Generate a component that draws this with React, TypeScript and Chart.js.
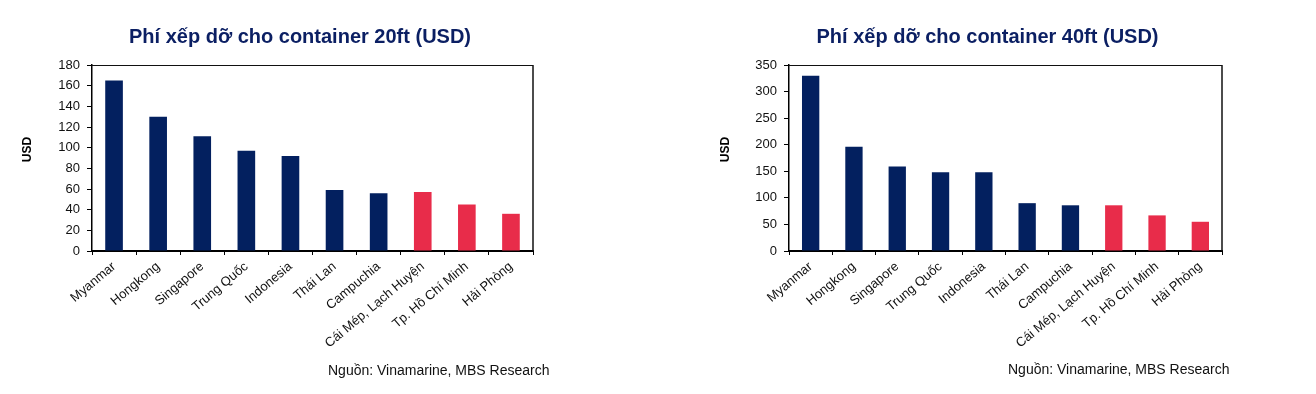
import React, { useEffect, useRef } from "react";
import { Chart, registerables } from "chart.js";

Chart.register(...registerables);

const FONT = "Arial, 'Liberation Sans', sans-serif";

const categories = [
  "Myanmar",
  "Hongkong",
  "Singapore",
  "Trung Quốc",
  "Indonesia",
  "Thái Lan",
  "Campuchia",
  "Cái Mép, Lạch Huyện",
  "Tp. Hồ Chí Minh",
  "Hải Phòng",
];
const isVietnamPort = [false, false, false, false, false, false, false, true, true, true];
const fee20ft = [165, 130, 111, 97, 92, 59, 56, 57, 45, 36];
const fee40ft = [330, 196, 159, 148, 148, 90, 86, 86, 67, 55];
const yTicks20ft = [0, 20, 40, 60, 80, 100, 120, 140, 160, 180];
const yTicks40ft = [0, 50, 100, 150, 200, 250, 300, 350];
const title20ft = "Phí xếp dỡ cho container 20ft (USD)";
const title40ft = "Phí xếp dỡ cho container 40ft (USD)";
const yAxisTitle = "USD";
const sourceText = "Nguồn: Vinamarine, MBS Research";

const NAVY = "#03205f";
const RED = "#e82c4a";
const TITLE_COLOR = "#0b1f63";
const H = 394;
const W = 600;

const annotPlugin = {
  id: "annot",
  afterDraw(chart: any, _args: any, opts: any) {
    const ctx = chart.ctx;
    const { left, top, right, bottom } = chart.chartArea;
    ctx.save();
    // frame top & right
    ctx.strokeStyle = "#111";
    ctx.lineWidth = 1;
    ctx.beginPath();
    ctx.moveTo(left, top + 0.5);
    ctx.lineTo(right, top + 0.5);
    ctx.stroke();
    ctx.lineWidth = 1.5;
    ctx.beginPath();
    ctx.moveTo(right, top);
    ctx.lineTo(right, bottom);
    ctx.stroke();
    // title
    ctx.font = `bold 20px ${FONT}`;
    ctx.fillStyle = TITLE_COLOR;
    ctx.textAlign = "center";
    ctx.textBaseline = "middle";
    ctx.fillText(opts.title, opts.titleX, 37);
    // y title
    ctx.save();
    ctx.translate(opts.yTitleX, 149.5);
    ctx.rotate(-Math.PI / 2);
    ctx.font = `bold 12px ${FONT}`;
    ctx.fillStyle = "#000";
    ctx.fillText(yAxisTitle, 0, 0);
    ctx.restore();
    // source
    ctx.font = `14px ${FONT}`;
    ctx.fillStyle = "#111";
    ctx.textAlign = "left";
    ctx.fillText(sourceText, opts.sourceX, opts.sourceY);
    ctx.restore();
  },
};

type PanelProps = {
  values: number[];
  yTicks: number[];
  title: string;
  offsetLeft: number;
  areaLeft: number;
  areaRight: number;
  areaTop: number;
  areaBottom: number;
  titleX: number;
  yTitleX: number;
  sourceX: number;
  sourceY: number;
};

function ChartPanel(p: PanelProps) {
  const ref = useRef<HTMLCanvasElement | null>(null);
  useEffect(() => {
    if (!ref.current) return;
    const chart = new Chart(ref.current, {
      type: "bar",
      data: {
        labels: categories,
        datasets: [
          {
            data: p.values,
            backgroundColor: isVietnamPort.map((v) => (v ? RED : NAVY)),
            barPercentage: 0.4,
            categoryPercentage: 1.0,
          },
        ],
      },
      plugins: [annotPlugin],
      options: {
        responsive: false,
        animation: false,
        layout: {
          padding: { left: 0, top: p.areaTop, right: W - p.areaRight, bottom: 0 },
        },
        plugins: {
          legend: { display: false },
          tooltip: { enabled: false },
          title: { display: false },
          annot: {
            title: p.title,
            titleX: p.titleX,
            yTitleX: p.yTitleX,
            sourceX: p.sourceX,
            sourceY: p.sourceY,
          },
        } as any,
        scales: {
          x: {
            afterFit: (s: any) => {
              s.height = H - p.areaBottom;
            },
            grid: {
              drawOnChartArea: false,
              drawTicks: true,
              tickLength: 4,
              color: "#000",
              offset: true,
            },
            border: { display: true, color: "#000", width: 2 },
            ticks: {
              autoSkip: false,
              minRotation: 40,
              maxRotation: 40,
              padding: 4,
              color: "#111",
              font: { family: FONT, size: 13 },
            },
          },
          y: {
            min: yTicks20ftMin(p.yTicks),
            max: p.yTicks[p.yTicks.length - 1],
            afterFit: (s: any) => {
              s.width = p.areaLeft;
            },
            afterBuildTicks: (s: any) => {
              s.ticks = p.yTicks.map((v) => ({ value: v }));
            },
            grid: {
              drawOnChartArea: false,
              drawTicks: true,
              tickLength: 5,
              color: "#000",
            },
            border: { display: true, color: "#000", width: 1.5 },
            ticks: {
              padding: 7,
              color: "#111",
              font: { family: FONT, size: 13 },
            },
          },
        },
      },
    } as any);
    return () => chart.destroy();
  }, []);
  return (
    <canvas
      ref={ref}
      width={W}
      height={H}
      style={{ position: "absolute", left: p.offsetLeft, top: 0, width: W, height: H }}
    />
  );
}

function yTicks20ftMin(t: number[]) {
  return t[0];
}

export default function App() {
  return (
    <div
      style={{
        position: "absolute",
        left: 0,
        top: 0,
        width: 1316,
        height: H,
        background: "#fff",
        overflow: "hidden",
      }}
    >
      <ChartPanel
        values={fee20ft}
        yTicks={yTicks20ft}
        title={title20ft}
        offsetLeft={0}
        areaLeft={92}
        areaRight={533}
        areaTop={65}
        areaBottom={251}
        titleX={300}
        yTitleX={28}
        sourceX={328}
        sourceY={371}
      />
      <ChartPanel
        values={fee40ft}
        yTicks={yTicks40ft}
        title={title40ft}
        offsetLeft={697}
        areaLeft={92}
        areaRight={525}
        areaTop={65}
        areaBottom={251}
        titleX={290.5}
        yTitleX={28.5}
        sourceX={311}
        sourceY={370}
      />
    </div>
  );
}
